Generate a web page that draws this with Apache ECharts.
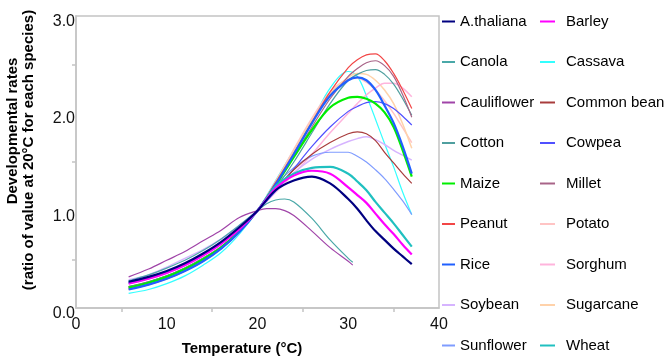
<!DOCTYPE html>
<html>
<head>
<meta charset="utf-8">
<title>Developmental rates</title>
<script src="https://cdn.jsdelivr.net/npm/echarts@6/dist/echarts.min.js"></script>
<style>
	html, body { margin: 0; padding: 0; background: #fff; }
	#charts { width: 670px; height: 363px; }
</style>
</head>
<body>
<div id="charts"></div>
<script>
// temperatures (°C) where the curves were read
var temps = [5.8, 8, 10, 12, 14, 16, 18, 20, 22, 24, 26, 28, 30, 31, 32, 33, 34, 35, 36, 37];
var tempsShort = [5.8, 8, 10, 12, 14, 16, 18, 20, 21, 22, 23, 24, 26, 28, 30, 30.5];

var speciesNames = ['A.thaliana', 'Barley', 'Canola', 'Cassava', 'Cauliflower', 'Common bean',
	'Cotton', 'Cowpea', 'Maize', 'Millet', 'Peanut', 'Potato', 'Rice', 'Sorghum',
	'Soybean', 'Sugarcane', 'Sunflower', 'Wheat'];

var athaliana  = [0.27, 0.32, 0.38, 0.46, 0.56, 0.68, 0.83, 1.00, 1.21, 1.31, 1.35, 1.28, 1.12, 1.02, 0.90, 0.79, 0.70, 0.61, 0.53, 0.45];
var barley     = [0.25, 0.30, 0.36, 0.44, 0.54, 0.66, 0.81, 1.00, 1.23, 1.36, 1.41, 1.38, 1.24, 1.16, 1.08, 0.97, 0.86, 0.76, 0.65, 0.55];
var canola     = [0.28, 0.34, 0.41, 0.49, 0.59, 0.71, 0.85, 1.00, 1.07, 1.11, 1.12, 1.09, 0.92, 0.70, 0.51, 0.47];
var cassava    = [0.15, 0.19, 0.25, 0.33, 0.44, 0.57, 0.76, 1.00, 1.31, 1.62, 1.92, 2.26, 2.43, 2.38, 2.18, 1.94, 1.69, 1.45, 1.19, 0.96];
var cauliflower= [0.32, 0.40, 0.49, 0.58, 0.69, 0.80, 0.93, 1.00, 1.02, 1.02, 1.00, 0.95, 0.79, 0.62, 0.48, 0.44];
var commonBean = [0.22, 0.27, 0.33, 0.41, 0.51, 0.63, 0.79, 1.00, 1.22, 1.42, 1.58, 1.70, 1.79, 1.81, 1.79, 1.72, 1.60, 1.49, 1.38, 1.28];
var cotton     = [0.22, 0.27, 0.33, 0.41, 0.51, 0.63, 0.79, 1.00, 1.23, 1.50, 1.80, 2.10, 2.34, 2.40, 2.44, 2.45, 2.40, 2.30, 2.15, 1.98];
var cowpea     = [0.26, 0.31, 0.37, 0.45, 0.55, 0.67, 0.82, 1.00, 1.20, 1.43, 1.66, 1.86, 2.02, 2.07, 2.11, 2.12, 2.10, 2.05, 1.97, 1.88];
var maize      = [0.21, 0.26, 0.32, 0.40, 0.50, 0.62, 0.79, 1.00, 1.26, 1.55, 1.83, 2.06, 2.16, 2.17, 2.15, 2.10, 2.01, 1.86, 1.62, 1.35];
var millet     = [0.21, 0.26, 0.32, 0.40, 0.50, 0.62, 0.79, 1.00, 1.27, 1.56, 1.86, 2.15, 2.38, 2.46, 2.52, 2.54, 2.49, 2.38, 2.19, 1.96];
var peanut     = [0.195, 0.24, 0.30, 0.38, 0.48, 0.61, 0.78, 1.00, 1.29, 1.59, 1.91, 2.22, 2.47, 2.55, 2.60, 2.61, 2.54, 2.41, 2.24, 2.05];
var potato     = [0.20, 0.25, 0.31, 0.39, 0.49, 0.62, 0.79, 1.00, 1.30, 1.63, 1.95, 2.22, 2.35, 2.36, 2.32, 2.24, 2.13, 2.00, 1.85, 1.70];
var rice       = [0.19, 0.24, 0.30, 0.38, 0.48, 0.61, 0.78, 1.00, 1.27, 1.58, 1.90, 2.18, 2.34, 2.37, 2.34, 2.24, 2.08, 1.90, 1.66, 1.38];
var sorghum    = [0.22, 0.27, 0.33, 0.41, 0.51, 0.63, 0.79, 1.00, 1.19, 1.38, 1.58, 1.80, 2.00, 2.10, 2.19, 2.26, 2.31, 2.31, 2.26, 2.17];
var soybean    = [0.29, 0.34, 0.42, 0.51, 0.60, 0.71, 0.85, 1.00, 1.20, 1.39, 1.53, 1.63, 1.71, 1.74, 1.76, 1.73, 1.68, 1.62, 1.57, 1.52];
var sugarcane  = [0.19, 0.24, 0.30, 0.38, 0.48, 0.61, 0.78, 1.00, 1.29, 1.61, 1.93, 2.20, 2.37, 2.41, 2.40, 2.34, 2.24, 2.10, 1.89, 1.64];
var sunflower  = [0.25, 0.30, 0.36, 0.44, 0.54, 0.66, 0.81, 1.00, 1.26, 1.44, 1.56, 1.60, 1.60, 1.56, 1.50, 1.42, 1.33, 1.22, 1.10, 0.96];
var wheat      = [0.26, 0.31, 0.37, 0.45, 0.55, 0.67, 0.82, 1.00, 1.25, 1.38, 1.44, 1.45, 1.38, 1.30, 1.21, 1.09, 0.98, 0.87, 0.75, 0.63];

var xTicks = [0, 10, 20, 30, 40];
var yTicks = [0.0, 1.0, 2.0, 3.0];

var Chart = {

	font: 'Liberation Sans, Arial, sans-serif',

	init: function () {
		this.myChart = echarts.init(document.getElementById('charts'), null, {renderer: 'canvas'});
		this.renderChart();
	},

	// pair each value with its temperature
	pairs: function (xs, ys) {
		var out = [];
		for (var i = 0; i < ys.length; i++) {
			out.push([xs[i], ys[i]]);
		}
		return out;
	},

	line: function (name, xs, ys, color, width) {
		return {
			name: name,
			type: 'line',
			smooth: 0.35,
			symbol: 'none',
			color: color,
			lineStyle: {width: width, color: color},
			data: this.pairs(xs, ys)
		};
	},

	renderChart: function () {
		var f = this.font;
		var thin = 1.2, thick = 2.2;
		var series = [
			this.line('Cassava', temps, cassava, '#33ffff', thin),
			this.line('Potato', temps, potato, '#ffc4c4', 1.5),
			this.line('Sugarcane', temps, sugarcane, '#ffd2aa', 1.5),
			this.line('Sorghum', temps, sorghum, '#ffb4dc', 1.5),
			this.line('Soybean', temps, soybean, '#d6b4ff', 1.5),
			this.line('Sunflower', temps, sunflower, '#7f9cff', thin),
			this.line('Cowpea', temps, cowpea, '#5050ff', thin),
			this.line('Common bean', temps, commonBean, '#a83c3c', thin),
			this.line('Cotton', temps, cotton, '#4f9f9f', thin),
			this.line('Millet', temps, millet, '#a86488', thin),
			this.line('Peanut', temps, peanut, '#f24646', thin),
			this.line('Canola', tempsShort, canola, '#4aa8a8', thin),
			this.line('Cauliflower', tempsShort, cauliflower, '#a044a8', thin),
			this.line('Maize', temps, maize, '#00ee00', thick),
			this.line('Rice', temps, rice, '#2060ff', thick),
			this.line('Wheat', temps, wheat, '#20c0c0', thick),
			this.line('Barley', temps, barley, '#ff00ff', thick),
			this.line('A.thaliana', temps, athaliana, '#000080', thick)
		];

		var leftNames = [], rightNames = [];
		for (var i = 0; i < speciesNames.length; i++) {
			(i % 2 == 0 ? leftNames : rightNames).push(speciesNames[i]);
		}

		var legendBase = {
			orient: 'vertical',
			top: 14,
			padding: 0,
			itemGap: 25.5,
			itemHeight: 2,
			icon: 'rect',
			selectedMode: false,
			textStyle: {fontFamily: f, fontSize: 15, color: '#000'}
		};

		var option = {
			animation: false,
			backgroundColor: '#fff',
			grid: {
				left: 76, right: 231, top: 16, bottom: 55,
				show: true,
				borderColor: '#c4c4c4',
				borderWidth: 1.5
			},
			legend: [
				echarts.util.merge({left: 442, itemWidth: 13, data: leftNames}, legendBase),
				echarts.util.merge({left: 540, itemWidth: 15, data: rightNames, textStyle: {padding: [0, 0, 0, 6]}}, legendBase)
			],
			xAxis: {
				type: 'value',
				min: xTicks[0],
				max: xTicks[xTicks.length - 1],
				interval: 10,
				axisLine: {lineStyle: {color: '#c4c4c4', width: 1.5}},
				axisTick: {show: false},
				minorTick: {show: true, splitNumber: 2, length: 4, lineStyle: {color: '#c4c4c4', width: 1.5}},
				splitLine: {show: false},
				axisLabel: {fontFamily: f, fontSize: 16, color: '#111', margin: 9}
			},
			yAxis: {
				type: 'value',
				min: yTicks[0],
				max: yTicks[yTicks.length - 1],
				interval: 1,
				axisLine: {show: true, lineStyle: {color: '#c4c4c4', width: 1.5}},
				axisTick: {show: false},
				minorTick: {show: true, splitNumber: 2, length: 4, lineStyle: {color: '#c4c4c4', width: 1.5}},
				splitLine: {show: false},
				axisLabel: {
					fontFamily: f, fontSize: 16, color: '#111', margin: 1,
					verticalAlign: 'top', lineHeight: 11,
					formatter: function (v) { return v.toFixed(1); }
				}
			},
			graphic: [
				{
					type: 'text', x: 13, y: 131, rotation: Math.PI / 2,
					style: {text: 'Developmental rates', font: 'bold 15px ' + f, fill: '#000', align: 'center', verticalAlign: 'middle'}
				},
				{
					type: 'text', x: 29, y: 150, rotation: Math.PI / 2,
					style: {text: '(ratio of value at 20°C for each species)', font: 'bold 15px ' + f, fill: '#000', align: 'center', verticalAlign: 'middle'}
				},
				{
					type: 'text', x: 242, y: 349,
					style: {text: 'Temperature (°C)', font: 'bold 15px ' + f, fill: '#000', align: 'center', verticalAlign: 'middle'}
				}
			],
			series: series
		};

		this.myChart.setOption(option);
	}
};

Chart.init();
</script>
</body>
</html>
